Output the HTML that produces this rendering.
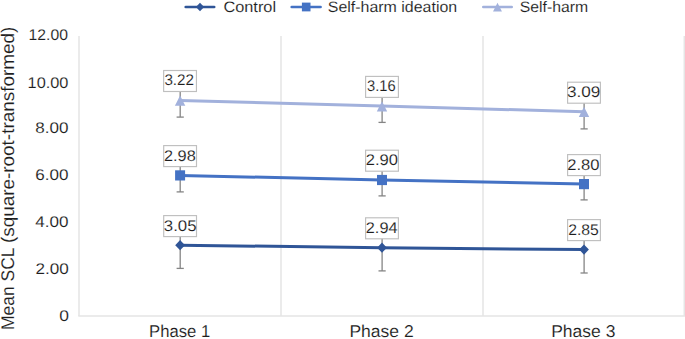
<!DOCTYPE html>
<html><head><meta charset="utf-8"><style>
html,body{margin:0;padding:0;background:#fff;width:685px;height:339px;overflow:hidden}
svg{position:absolute;left:0;top:0}
</style></head><body>
<svg width="685" height="339" viewBox="0 0 685 339" font-family='"Liberation Sans", sans-serif'>
<line x1="79.0" y1="36" x2="79.0" y2="316" stroke="#E5E5E5" stroke-width="1.5"/>
<line x1="281" y1="36" x2="281" y2="316" stroke="#E5E5E5" stroke-width="1.5"/>
<line x1="483" y1="36" x2="483" y2="316" stroke="#E5E5E5" stroke-width="1.5"/>
<line x1="684.3" y1="36" x2="684.3" y2="316" stroke="#E5E5E5" stroke-width="1.5"/>
<line x1="78.3" y1="316" x2="685" y2="316" stroke="#E5E5E5" stroke-width="1.5"/>
<text x="28.60" y="40.20" font-size="15.5" textLength="39.32" lengthAdjust="spacingAndGlyphs" fill="#1E1E1E" text-rendering="geometricPrecision" stroke="#fff" stroke-width="0.1">12.00</text>
<text x="27.60" y="87.60" font-size="15.5" textLength="40.84" lengthAdjust="spacingAndGlyphs" fill="#1E1E1E" text-rendering="geometricPrecision" stroke="#fff" stroke-width="0.1">10.00</text>
<text x="35.20" y="133.30" font-size="15.5" textLength="33.21" lengthAdjust="spacingAndGlyphs" fill="#1E1E1E" text-rendering="geometricPrecision" stroke="#fff" stroke-width="0.1">8.00</text>
<text x="35.20" y="180.30" font-size="15.5" textLength="33.21" lengthAdjust="spacingAndGlyphs" fill="#1E1E1E" text-rendering="geometricPrecision" stroke="#fff" stroke-width="0.1">6.00</text>
<text x="35.20" y="227.20" font-size="15.5" textLength="33.21" lengthAdjust="spacingAndGlyphs" fill="#1E1E1E" text-rendering="geometricPrecision" stroke="#fff" stroke-width="0.1">4.00</text>
<text x="35.40" y="273.60" font-size="15.5" textLength="33.31" lengthAdjust="spacingAndGlyphs" fill="#1E1E1E" text-rendering="geometricPrecision" stroke="#fff" stroke-width="0.1">2.00</text>
<text x="59.20" y="321.30" font-size="15.5" textLength="9.70" lengthAdjust="spacingAndGlyphs" fill="#1E1E1E" text-rendering="geometricPrecision" stroke="#fff" stroke-width="0.1">0</text>
<text transform="translate(14.0,330.0) rotate(-90)" font-size="18.3" textLength="82.6" lengthAdjust="spacingAndGlyphs" fill="#1E1E1E" text-rendering="geometricPrecision" stroke="#fff" stroke-width="0.1">Mean SCL</text>
<text transform="translate(14.0,243.0) rotate(-90)" font-size="18.3" textLength="216.2" lengthAdjust="spacingAndGlyphs" fill="#1E1E1E" text-rendering="geometricPrecision" stroke="#fff" stroke-width="0.1">(square-root-transformed)</text>
<text x="149.00" y="337.20" font-size="17.1" textLength="61.22" lengthAdjust="spacingAndGlyphs" fill="#1E1E1E" text-rendering="geometricPrecision" stroke="#fff" stroke-width="0.1">Phase 1</text>
<text x="349.40" y="337.20" font-size="17.1" textLength="64.30" lengthAdjust="spacingAndGlyphs" fill="#1E1E1E" text-rendering="geometricPrecision" stroke="#fff" stroke-width="0.1">Phase 2</text>
<text x="551.20" y="337.20" font-size="17.1" textLength="64.27" lengthAdjust="spacingAndGlyphs" fill="#1E1E1E" text-rendering="geometricPrecision" stroke="#fff" stroke-width="0.1">Phase 3</text>
<line x1="180.20" y1="83.7" x2="180.20" y2="117.1" stroke="#858585" stroke-width="1.3"/>
<line x1="176.60" y1="117.1" x2="183.80" y2="117.1" stroke="#858585" stroke-width="1.3"/>
<line x1="382.10" y1="89.8" x2="382.10" y2="122.4" stroke="#858585" stroke-width="1.3"/>
<line x1="378.50" y1="122.4" x2="385.70" y2="122.4" stroke="#858585" stroke-width="1.3"/>
<line x1="584.10" y1="94.5" x2="584.10" y2="128.9" stroke="#858585" stroke-width="1.3"/>
<line x1="580.50" y1="128.9" x2="587.70" y2="128.9" stroke="#858585" stroke-width="1.3"/>
<polyline points="180.1,100.4 382,106.1 584,111.7" fill="none" stroke="#A2B1DC" stroke-width="3" stroke-linejoin="round"/>
<path d="M180.1 95.50 L185.30 105.70 L174.90 105.70 Z" fill="#A2B1DC"/>
<path d="M382 101.20 L387.20 111.40 L376.80 111.40 Z" fill="#A2B1DC"/>
<path d="M584 106.80 L589.20 117.00 L578.80 117.00 Z" fill="#A2B1DC"/>
<rect x="163.65" y="70.50" width="32.8" height="21" fill="#fff" stroke="#BFBFBF" stroke-width="1.15"/>
<text x="164.40" y="85.40" font-size="15.5" textLength="29.67" lengthAdjust="spacingAndGlyphs" fill="#1E1E1E" text-rendering="geometricPrecision" stroke="#fff" stroke-width="0.1">3.22</text>
<rect x="365.60" y="76.40" width="32.8" height="21" fill="#fff" stroke="#BFBFBF" stroke-width="1.15"/>
<text x="367.00" y="91.30" font-size="15.5" textLength="28.63" lengthAdjust="spacingAndGlyphs" fill="#1E1E1E" text-rendering="geometricPrecision" stroke="#fff" stroke-width="0.1">3.16</text>
<rect x="567.60" y="82.20" width="32.8" height="21" fill="#fff" stroke="#BFBFBF" stroke-width="1.15"/>
<text x="567.00" y="97.10" font-size="15.5" textLength="33.29" lengthAdjust="spacingAndGlyphs" fill="#1E1E1E" text-rendering="geometricPrecision" stroke="#fff" stroke-width="0.1">3.09</text>
<line x1="180.20" y1="158.9" x2="180.20" y2="191.9" stroke="#858585" stroke-width="1.3"/>
<line x1="176.60" y1="191.9" x2="183.80" y2="191.9" stroke="#858585" stroke-width="1.3"/>
<line x1="382.10" y1="164.1" x2="382.10" y2="195.9" stroke="#858585" stroke-width="1.3"/>
<line x1="378.50" y1="195.9" x2="385.70" y2="195.9" stroke="#858585" stroke-width="1.3"/>
<line x1="584.10" y1="168.3" x2="584.10" y2="199.9" stroke="#858585" stroke-width="1.3"/>
<line x1="580.50" y1="199.9" x2="587.70" y2="199.9" stroke="#858585" stroke-width="1.3"/>
<polyline points="180.1,175.4 382,180.0 584,184.1" fill="none" stroke="#4472C4" stroke-width="3" stroke-linejoin="round"/>
<rect x="175.10" y="170.30" width="10.00" height="10.20" fill="#4472C4"/>
<rect x="377.00" y="174.90" width="10.00" height="10.20" fill="#4472C4"/>
<rect x="579.00" y="179.00" width="10.00" height="10.20" fill="#4472C4"/>
<rect x="163.70" y="145.60" width="32.8" height="21" fill="#fff" stroke="#BFBFBF" stroke-width="1.15"/>
<text x="164.00" y="160.50" font-size="15.5" textLength="31.74" lengthAdjust="spacingAndGlyphs" fill="#1E1E1E" text-rendering="geometricPrecision" stroke="#fff" stroke-width="0.1">2.98</text>
<rect x="365.60" y="150.20" width="32.8" height="21" fill="#fff" stroke="#BFBFBF" stroke-width="1.15"/>
<text x="365.80" y="165.10" font-size="15.5" textLength="32.24" lengthAdjust="spacingAndGlyphs" fill="#1E1E1E" text-rendering="geometricPrecision" stroke="#fff" stroke-width="0.1">2.90</text>
<rect x="567.60" y="154.60" width="32.8" height="21" fill="#fff" stroke="#BFBFBF" stroke-width="1.15"/>
<text x="567.20" y="169.50" font-size="15.5" textLength="32.27" lengthAdjust="spacingAndGlyphs" fill="#1E1E1E" text-rendering="geometricPrecision" stroke="#fff" stroke-width="0.1">2.80</text>
<line x1="180.20" y1="222.0" x2="180.20" y2="268.4" stroke="#858585" stroke-width="1.3"/>
<line x1="176.60" y1="268.4" x2="183.80" y2="268.4" stroke="#858585" stroke-width="1.3"/>
<line x1="382.10" y1="224.5" x2="382.10" y2="270.9" stroke="#858585" stroke-width="1.3"/>
<line x1="378.50" y1="270.9" x2="385.70" y2="270.9" stroke="#858585" stroke-width="1.3"/>
<line x1="584.10" y1="226.2" x2="584.10" y2="273.0" stroke="#858585" stroke-width="1.3"/>
<line x1="580.50" y1="273.0" x2="587.70" y2="273.0" stroke="#858585" stroke-width="1.3"/>
<polyline points="180.1,245.2 382,247.7 584,249.6" fill="none" stroke="#2F5597" stroke-width="3" stroke-linejoin="round"/>
<path d="M180.1 240.10 L185.00 245.2 L180.1 250.30 L175.20 245.2 Z" fill="#2F5597"/>
<path d="M382 242.60 L386.90 247.7 L382 252.80 L377.10 247.7 Z" fill="#2F5597"/>
<path d="M584 244.50 L588.90 249.6 L584 254.70 L579.10 249.6 Z" fill="#2F5597"/>
<rect x="163.70" y="215.60" width="32.8" height="21" fill="#fff" stroke="#BFBFBF" stroke-width="1.15"/>
<text x="163.80" y="230.50" font-size="15.5" textLength="32.74" lengthAdjust="spacingAndGlyphs" fill="#1E1E1E" text-rendering="geometricPrecision" stroke="#fff" stroke-width="0.1">3.05</text>
<rect x="365.60" y="217.80" width="32.8" height="21" fill="#fff" stroke="#BFBFBF" stroke-width="1.15"/>
<text x="365.80" y="232.70" font-size="15.5" textLength="31.74" lengthAdjust="spacingAndGlyphs" fill="#1E1E1E" text-rendering="geometricPrecision" stroke="#fff" stroke-width="0.1">2.94</text>
<rect x="567.60" y="219.60" width="32.8" height="21" fill="#fff" stroke="#BFBFBF" stroke-width="1.15"/>
<text x="568.20" y="234.50" font-size="15.5" textLength="30.71" lengthAdjust="spacingAndGlyphs" fill="#1E1E1E" text-rendering="geometricPrecision" stroke="#fff" stroke-width="0.1">2.85</text>
<line x1="185.70" y1="7" x2="214.20" y2="7" stroke="#2F5597" stroke-width="2.6" stroke-linecap="round"/>
<path d="M200.0 2.72 L204.12 7 L200.0 11.28 L195.88 7 Z" fill="#2F5597"/>
<text x="223.40" y="11.60" font-size="15.2" textLength="52.65" lengthAdjust="spacingAndGlyphs" fill="#1E1E1E" text-rendering="geometricPrecision" stroke="#fff" stroke-width="0.1">Control</text>
<line x1="291.70" y1="7" x2="320.60" y2="7" stroke="#4472C4" stroke-width="2.6" stroke-linecap="round"/>
<rect x="301.90" y="2.61" width="8.60" height="8.77" fill="#4472C4"/>
<text x="327.80" y="11.60" font-size="15.2" textLength="129.39" lengthAdjust="spacingAndGlyphs" fill="#1E1E1E" text-rendering="geometricPrecision" stroke="#fff" stroke-width="0.1">Self-harm ideation</text>
<line x1="483.30" y1="7" x2="511.70" y2="7" stroke="#A2B1DC" stroke-width="2.6" stroke-linecap="round"/>
<path d="M497.5 2.79 L501.97 11.56 L493.03 11.56 Z" fill="#A2B1DC"/>
<text x="519.80" y="11.60" font-size="15.2" textLength="68.41" lengthAdjust="spacingAndGlyphs" fill="#1E1E1E" text-rendering="geometricPrecision" stroke="#fff" stroke-width="0.1">Self-harm</text>
</svg>
</body></html>
